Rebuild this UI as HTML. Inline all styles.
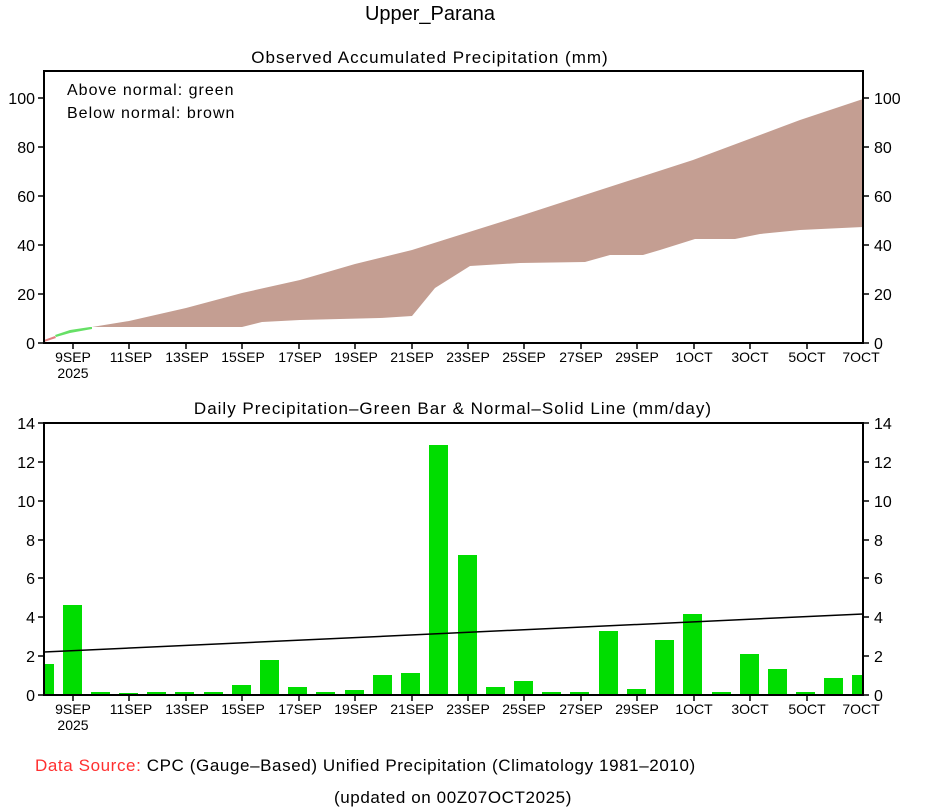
<!DOCTYPE html>
<html><head><meta charset="utf-8"><style>
body{margin:0;background:#fff}
svg{display:block;font-family:"Liberation Sans",sans-serif}
</style></head><body>
<svg width="933" height="809" viewBox="0 0 933 809" xmlns="http://www.w3.org/2000/svg">
<rect width="933" height="809" fill="#fff"/>
<text x="430" y="20" font-size="20" text-anchor="middle">Upper_Parana</text>
<text x="430" y="63" font-size="17" text-anchor="middle" letter-spacing="1">Observed Accumulated Precipitation (mm)</text>
<polygon fill="#c49e92" points="92,327 129,321 186,308 242,293 300,280 355,264 412,250 450,238 520,216 600,190 693,160 800,120 863,99 863,227 800,230 760,234 735,239 695,239 660,250 643,255 610,255 585,262 520,263 470,266 435,288 412,316 380,318 300,320 262,322 242,327 92,327"/>
<polygon fill="#66e066" points="55,335 70,330 90,327 92,327 92,329 70,333 56,337"/>
<polygon fill="#e08080" points="44,340 55,336 56,338 44,342"/>
<rect x="44" y="71" width="819" height="272" fill="none" stroke="#000" stroke-width="2"/>
<text x="67" y="95" font-size="16" letter-spacing="1">Above normal: green</text>
<text x="67" y="118" font-size="16" letter-spacing="1">Below normal: brown</text>
<g stroke="#000" stroke-width="1.5">
<line x1="38" y1="343" x2="44" y2="343"/><line x1="38" y1="294" x2="44" y2="294"/><line x1="38" y1="245" x2="44" y2="245"/><line x1="38" y1="196" x2="44" y2="196"/><line x1="38" y1="147" x2="44" y2="147"/><line x1="38" y1="98" x2="44" y2="98"/>
<line x1="863" y1="343" x2="869" y2="343"/><line x1="863" y1="294" x2="869" y2="294"/><line x1="863" y1="245" x2="869" y2="245"/><line x1="863" y1="196" x2="869" y2="196"/><line x1="863" y1="147" x2="869" y2="147"/><line x1="863" y1="98" x2="869" y2="98"/>
</g>
<g font-size="16" text-anchor="end">
<text x="35" y="349">0</text><text x="35" y="300">20</text><text x="35" y="251">40</text><text x="35" y="202">60</text><text x="35" y="153">80</text><text x="35" y="104">100</text>
</g>
<g font-size="16">
<text x="874" y="349">0</text><text x="874" y="300">20</text><text x="874" y="251">40</text><text x="874" y="202">60</text><text x="874" y="153">80</text><text x="874" y="104">100</text>
</g>
<g stroke="#000" stroke-width="1.5">
<line x1="73" y1="343" x2="73" y2="349"/><line x1="129" y1="343" x2="129" y2="349"/><line x1="186" y1="343" x2="186" y2="349"/><line x1="242" y1="343" x2="242" y2="349"/><line x1="299" y1="343" x2="299" y2="349"/><line x1="355" y1="343" x2="355" y2="349"/><line x1="412" y1="343" x2="412" y2="349"/><line x1="468" y1="343" x2="468" y2="349"/><line x1="524" y1="343" x2="524" y2="349"/><line x1="581" y1="343" x2="581" y2="349"/><line x1="637" y1="343" x2="637" y2="349"/><line x1="694" y1="343" x2="694" y2="349"/><line x1="750" y1="343" x2="750" y2="349"/><line x1="807" y1="343" x2="807" y2="349"/>
</g>
<g font-size="14" text-anchor="middle">
<text x="73" y="362">9SEP</text><text x="73" y="378">2025</text><text x="131" y="362">11SEP</text><text x="187" y="362">13SEP</text><text x="243" y="362">15SEP</text><text x="300" y="362">17SEP</text><text x="356" y="362">19SEP</text><text x="412" y="362">21SEP</text><text x="468" y="362">23SEP</text><text x="524" y="362">25SEP</text><text x="581" y="362">27SEP</text><text x="637" y="362">29SEP</text><text x="694" y="362">1OCT</text><text x="750" y="362">3OCT</text><text x="807" y="362">5OCT</text><text x="861" y="362">7OCT</text>
</g>

<text x="453" y="414" font-size="17" text-anchor="middle" letter-spacing="1">Daily Precipitation–Green Bar &amp; Normal–Solid Line (mm/day)</text>
<g fill="#00dd00">
<rect x="44" y="664" width="10" height="31"/>
<rect x="63" y="605" width="19" height="90"/>
<rect x="91" y="692" width="19" height="3"/>
<rect x="119" y="693" width="19" height="2"/>
<rect x="147" y="692" width="19" height="3"/>
<rect x="175" y="692" width="19" height="3"/>
<rect x="204" y="692" width="19" height="3"/>
<rect x="232" y="685" width="19" height="10"/>
<rect x="260" y="660" width="19" height="35"/>
<rect x="288" y="687" width="19" height="8"/>
<rect x="316" y="692" width="19" height="3"/>
<rect x="345" y="690" width="19" height="5"/>
<rect x="373" y="675" width="19" height="20"/>
<rect x="401" y="673" width="19" height="22"/>
<rect x="429" y="445" width="19" height="250"/>
<rect x="458" y="555" width="19" height="140"/>
<rect x="486" y="687" width="19" height="8"/>
<rect x="514" y="681" width="19" height="14"/>
<rect x="542" y="692" width="19" height="3"/>
<rect x="570" y="692" width="19" height="3"/>
<rect x="599" y="631" width="19" height="64"/>
<rect x="627" y="689" width="19" height="6"/>
<rect x="655" y="640" width="19" height="55"/>
<rect x="683" y="614" width="19" height="81"/>
<rect x="712" y="692" width="19" height="3"/>
<rect x="740" y="654" width="19" height="41"/>
<rect x="768" y="669" width="19" height="26"/>
<rect x="796" y="692" width="19" height="3"/>
<rect x="824" y="678" width="19" height="17"/>
<rect x="852" y="675" width="11" height="20"/>
</g>
<line x1="44" y1="652" x2="863" y2="614" stroke="#000" stroke-width="1.5"/>
<rect x="44" y="423" width="819" height="272" fill="none" stroke="#000" stroke-width="2"/>
<g stroke="#000" stroke-width="1.5">
<line x1="38" y1="695" x2="44" y2="695"/><line x1="38" y1="656" x2="44" y2="656"/><line x1="38" y1="617" x2="44" y2="617"/><line x1="38" y1="578" x2="44" y2="578"/><line x1="38" y1="540" x2="44" y2="540"/><line x1="38" y1="501" x2="44" y2="501"/><line x1="38" y1="462" x2="44" y2="462"/><line x1="38" y1="423" x2="44" y2="423"/>
<line x1="863" y1="695" x2="869" y2="695"/><line x1="863" y1="656" x2="869" y2="656"/><line x1="863" y1="617" x2="869" y2="617"/><line x1="863" y1="578" x2="869" y2="578"/><line x1="863" y1="540" x2="869" y2="540"/><line x1="863" y1="501" x2="869" y2="501"/><line x1="863" y1="462" x2="869" y2="462"/><line x1="863" y1="423" x2="869" y2="423"/>
<line x1="73" y1="695" x2="73" y2="701"/><line x1="129" y1="695" x2="129" y2="701"/><line x1="186" y1="695" x2="186" y2="701"/><line x1="242" y1="695" x2="242" y2="701"/><line x1="299" y1="695" x2="299" y2="701"/><line x1="355" y1="695" x2="355" y2="701"/><line x1="412" y1="695" x2="412" y2="701"/><line x1="468" y1="695" x2="468" y2="701"/><line x1="524" y1="695" x2="524" y2="701"/><line x1="581" y1="695" x2="581" y2="701"/><line x1="637" y1="695" x2="637" y2="701"/><line x1="694" y1="695" x2="694" y2="701"/><line x1="750" y1="695" x2="750" y2="701"/><line x1="807" y1="695" x2="807" y2="701"/>
</g>
<g font-size="16" text-anchor="end">
<text x="35" y="701">0</text><text x="35" y="662">2</text><text x="35" y="623">4</text><text x="35" y="584">6</text><text x="35" y="546">8</text><text x="35" y="507">10</text><text x="35" y="468">12</text><text x="35" y="429">14</text>
</g>
<g font-size="16">
<text x="874" y="701">0</text><text x="874" y="662">2</text><text x="874" y="623">4</text><text x="874" y="584">6</text><text x="874" y="546">8</text><text x="874" y="507">10</text><text x="874" y="468">12</text><text x="874" y="429">14</text>
</g>
<g font-size="14" text-anchor="middle">
<text x="73" y="714">9SEP</text><text x="73" y="730">2025</text><text x="131" y="714">11SEP</text><text x="187" y="714">13SEP</text><text x="243" y="714">15SEP</text><text x="300" y="714">17SEP</text><text x="356" y="714">19SEP</text><text x="412" y="714">21SEP</text><text x="468" y="714">23SEP</text><text x="524" y="714">25SEP</text><text x="581" y="714">27SEP</text><text x="637" y="714">29SEP</text><text x="694" y="714">1OCT</text><text x="750" y="714">3OCT</text><text x="807" y="714">5OCT</text><text x="861" y="714">7OCT</text>
</g>
<text x="35" y="771" font-size="17" letter-spacing="0.6"><tspan fill="#ff3030">Data Source:</tspan> CPC (Gauge–Based) Unified Precipitation (Climatology 1981–2010)</text>
<text x="453" y="803" font-size="17" text-anchor="middle" letter-spacing="0.6">(updated on 00Z07OCT2025)</text>
</svg>
</body></html>
